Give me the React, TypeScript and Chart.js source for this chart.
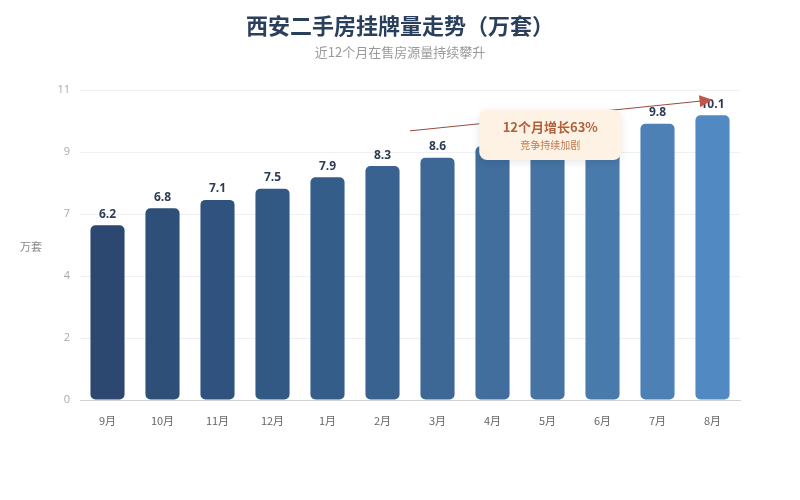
import React, { useEffect, useRef } from "react";
import { Chart, registerables } from "chart.js";

Chart.register(...registerables);

const titleText = "西安二手房挂牌量走势（万套）";
const subtitleText = "近12个月在售房源量持续攀升";
const yAxisTitle = "万套";

const months = ["9月", "10月", "11月", "12月", "1月", "2月", "3月", "4月", "5月", "6月", "7月", "8月"];
const listings = [6.2, 6.8, 7.1, 7.5, 7.9, 8.3, 8.6, 9.0, 9.3, 9.5, 9.8, 10.1];
const hiddenLabelIdx = [7, 8, 9];

const yTickValues = [0, 2.2, 4.4, 6.6, 8.8, 11];
const yTickLabels = ["0", "2", "4", "7", "9", "11"];

const calloutTitle = "12个月增长63%";
const calloutSub = "竞争持续加剧";
const calloutAt = { index: 8.05, value: 9.4 };
const arrowFrom = { index: 5.5, value: 9.55 };
const arrowTo = { index: 11, value: 10.65 };

const barColors = [
  "#2c4870", "#2d4f78", "#2f537e", "#325884", "#355d8a", "#396290",
  "#3d6896", "#416e9d", "#4574a4", "#497aac", "#4d81b6", "#5189c2",
];

const FONT = '"Open Sans", "Noto Sans CJK SC", sans-serif';
const CJK = '"Noto Sans CJK SC", "Noto Sans", sans-serif';

const overlayPlugin = {
  id: "overlay",
  afterDraw(chart: any) {
    const ctx = chart.ctx;
    const x = chart.scales.x;
    const y = chart.scales.y;
    const area = chart.chartArea;
    ctx.save();

    // title
    ctx.textAlign = "center";
    ctx.textBaseline = "middle";
    ctx.fillStyle = "#2a3f5c";
    ctx.font = `bold 22px ${CJK}`;
    ctx.fillText(titleText, 400, 26);
    ctx.fillStyle = "#9a9a9a";
    ctx.font = `13px ${CJK}`;
    ctx.fillText(subtitleText, 400, 52);

    // y axis title
    ctx.fillStyle = "#888";
    ctx.font = `11px ${CJK}`;
    ctx.fillText(yAxisTitle, 31, (area.top + area.bottom) / 2 + 2);

    // data labels
    const meta = chart.getDatasetMeta(0);
    ctx.font = `bold 12px ${FONT}`;
    ctx.fillStyle = "#2e3d55";
    ctx.textBaseline = "bottom";
    meta.data.forEach((bar: any, i: number) => {
      if (hiddenLabelIdx.includes(i)) return;
      ctx.fillText(listings[i].toFixed(1), bar.x, bar.y - 5);
    });

    // arrow
    const x1 = x.getPixelForValue(arrowFrom.index);
    const y1 = y.getPixelForValue(arrowFrom.value);
    const x2 = x.getPixelForValue(arrowTo.index);
    const y2 = y.getPixelForValue(arrowTo.value);
    const ang = Math.atan2(y2 - y1, x2 - x1);
    ctx.strokeStyle = "#9a4a3e";
    ctx.lineWidth = 1;
    ctx.beginPath();
    ctx.moveTo(x1, y1);
    ctx.lineTo(x2 - 8 * Math.cos(ang), y2 - 8 * Math.sin(ang));
    ctx.stroke();
    ctx.fillStyle = "#c0564a";
    ctx.beginPath();
    ctx.moveTo(x2, y2);
    ctx.lineTo(x2 - 13 * Math.cos(ang) + 6 * Math.sin(ang), y2 - 13 * Math.sin(ang) - 6 * Math.cos(ang));
    ctx.lineTo(x2 - 13 * Math.cos(ang) - 6 * Math.sin(ang), y2 - 13 * Math.sin(ang) + 6 * Math.cos(ang));
    ctx.closePath();
    ctx.fill();

    // callout box
    const cx = x.getPixelForValue(calloutAt.index);
    const cy = y.getPixelForValue(calloutAt.value);
    const bw = 142, bh = 50;
    ctx.shadowColor = "rgba(0,0,0,0.10)";
    ctx.shadowBlur = 8;
    ctx.shadowOffsetY = 2;
    ctx.fillStyle = "#fdf2e4";
    ctx.beginPath();
    ctx.roundRect(cx - bw / 2, cy - bh / 2, bw, bh, 8);
    ctx.fill();
    ctx.shadowColor = "transparent";
    ctx.shadowBlur = 0;
    ctx.shadowOffsetY = 0;
    ctx.textBaseline = "middle";
    ctx.fillStyle = "#b0603a";
    ctx.font = `bold 13px ${CJK}`;
    ctx.fillText(calloutTitle, cx, cy - 8);
    ctx.fillStyle = "#c27a52";
    ctx.font = `10px ${CJK}`;
    ctx.fillText(calloutSub, cx, cy + 10);

    ctx.restore();
  },
};

export default function App() {
  const ref = useRef<HTMLCanvasElement>(null);
  useEffect(() => {
    if (!ref.current) return;
    const chart = new Chart(ref.current, {
      type: "bar",
      data: {
        labels: months,
        datasets: [
          {
            data: listings,
            backgroundColor: barColors,
            borderRadius: 5,
            borderSkipped: false,
            barPercentage: 0.62,
            categoryPercentage: 1,
          },
        ],
      },
      options: {
        animation: false,
        responsive: true,
        maintainAspectRatio: false,
        layout: { padding: { top: 90, right: 60, bottom: 70, left: 0 } },
        plugins: {
          legend: { display: false },
          tooltip: { enabled: false },
          title: { display: false },
        },
        scales: {
          x: {
            grid: { display: false },
            border: { display: true, color: "#cfd3d8" },
            ticks: { color: "#666", font: { size: 11, family: CJK }, padding: 6 },
            afterFit: (s: any) => { s.height = 30; },
          },
          y: {
            min: 0,
            max: 11,
            afterBuildTicks: (s: any) => {
              s.ticks = yTickValues.map((v) => ({ value: v }));
            },
            ticks: {
              color: "#aaa",
              font: { size: 11, family: FONT },
              padding: 10,
              callback: (_v: any, i: number) => yTickLabels[i],
            },
            grid: { color: "#eef0f3", drawTicks: false },
            border: { display: false },
            afterFit: (s: any) => { s.width = 80; },
          },
        },
      },
      plugins: [overlayPlugin],
    });
    return () => chart.destroy();
  }, []);
  return (
    <div style={{ position: "fixed", left: 0, top: 0, width: 800, height: 500, background: "#fff" }}>
      <canvas ref={ref} />
    </div>
  );
}
